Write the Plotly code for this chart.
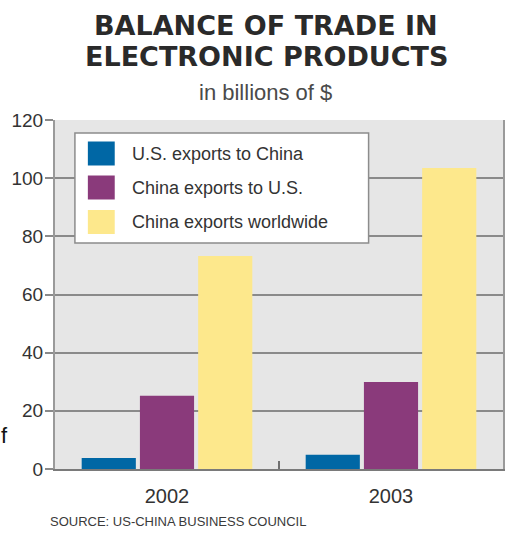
import plotly.graph_objects as go

years = ["2002", "2003"]
series_names = ["U.S. exports to China", "China exports to U.S.", "China exports worldwide"]
us_to_china = [3.8, 4.9]
china_to_us = [25.2, 29.9]
china_worldwide = [73.2, 103.5]
series_values = [us_to_china, china_to_us, china_worldwide]
colors = ["#0067a5", "#8a3a7b", "#fde88c"]
y_ticks = [0, 20, 40, 60, 80, 100, 120]

NARROW = "Liberation Sans Narrow, Arial Narrow, Liberation Sans, sans-serif"

fig = go.Figure()
for name, vals, col in zip(series_names, series_values, colors):
    fig.add_trace(go.Bar(x=years, y=vals, name=name, marker=dict(color=col, line=dict(width=0)),
                         showlegend=False))

W, H = 507, 533
L, R, T, B = 55, 2, 120, 64
pw, ph = W - L - R, H - T - B

def px(x):
    return (x - L) / pw

def py(y):
    return (H - B - y) / ph

shapes = []
annotations = []

# manual legend
shapes.append(dict(type="rect", xref="paper", yref="paper", x0=px(75), x1=px(370), y0=py(243), y1=py(133),
                   fillcolor="white", line=dict(color="#8c8c8c", width=1.5), layer="above"))
row_y = [153.5, 187.5, 222]
for name, col, ry in zip(series_names, colors, row_y):
    shapes.append(dict(type="rect", xref="paper", yref="paper", x0=px(88), x1=px(115),
                       y0=py(ry + 12), y1=py(ry - 12), fillcolor=col, line=dict(width=0), layer="above"))
    annotations.append(dict(text=name, xref="paper", yref="paper", x=px(130), y=py(ry), xanchor="left",
                            yanchor="middle", showarrow=False, font=dict(family=NARROW, size=18, color="#333333")))

# title block
annotations.append(dict(text="<b>BALANCE OF TRADE IN</b>", xref="paper", yref="paper", x=px(267), y=py(25),
                        xanchor="center", yanchor="middle", showarrow=False,
                        font=dict(family="DejaVu Sans", size=27, color="#2a2a2a")))
annotations.append(dict(text="<b>ELECTRONIC PRODUCTS</b>", xref="paper", yref="paper", x=px(267), y=py(57),
                        xanchor="center", yanchor="middle", showarrow=False,
                        font=dict(family="DejaVu Sans", size=27, color="#2a2a2a")))
annotations.append(dict(text="in billions of $", xref="paper", yref="paper", x=px(266), y=py(93),
                        xanchor="center", yanchor="middle", showarrow=False,
                        font=dict(family="Liberation Sans, sans-serif", size=22, color="#4a4a4a")))
annotations.append(dict(text="SOURCE: US-CHINA BUSINESS COUNCIL", xref="paper", yref="paper", x=px(48), y=py(521),
                        xanchor="left", yanchor="middle", showarrow=False,
                        font=dict(family=NARROW, size=13, color="#3a3a3a")))
annotations.append(dict(text="f", xref="paper", yref="paper", x=px(-1), y=py(435),
                        xanchor="left", yanchor="middle", showarrow=False,
                        font=dict(family="Liberation Sans, sans-serif", size=22, color="#111111")))

fig.update_layout(
    width=W, height=H,
    margin=dict(l=L, r=R, t=T, b=B, pad=0),
    paper_bgcolor="white",
    plot_bgcolor="#e6e6e6",
    barmode="group",
    bargap=0.22,
    bargroupgap=0.07,
    shapes=shapes,
    annotations=annotations,
    showlegend=False,
)
fig.update_yaxes(
    range=[0, 120], tickvals=y_ticks, ticktext=[str(v) for v in y_ticks],
    showgrid=True, gridcolor="#8a8a8a", gridwidth=2,
    ticks="outside", ticklen=8, tickwidth=2, tickcolor="#8a8a8a",
    showline=True, linecolor="#9a9a9a", linewidth=2, mirror=True,
    zeroline=False,
    tickfont=dict(family=NARROW, size=19, color="#333333"),
    ticklabelstandoff=-2,
)
fig.update_xaxes(
    showgrid=False,
    ticks="inside", tickson="boundaries", ticklen=8, tickwidth=2, tickcolor="#707070",
    showline=True, linecolor="#7a7a7a", linewidth=2, mirror=False,
    tickfont=dict(family=NARROW, size=20, color="#333333"),
    ticklabelstandoff=8,
)

fig.write_html("out.html")
